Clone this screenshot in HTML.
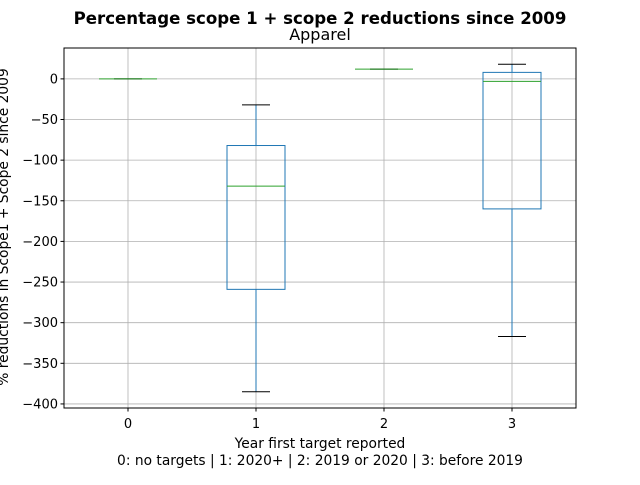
<!DOCTYPE html>
<html><head><meta charset="utf-8"><style>
body{margin:0;background:#fff;}
svg text{font-family:"DejaVu Sans","Liberation Sans",sans-serif;}
</style></head><body>
<svg id="chart" width="640" height="480" viewBox="0 0 640 480" xmlns="http://www.w3.org/2000/svg">
<rect width="640" height="480" fill="#fff"/>
<text x="320" y="24" text-anchor="middle" font-size="16.6" font-weight="bold">Percentage scope 1 + scope 2 reductions since 2009</text>
<text x="320" y="40" text-anchor="middle" font-size="16">Apparel</text>
<g id="grid"></g>
<g id="boxes"></g>
<rect x="64" y="48" width="512" height="360" fill="none" stroke="#000" stroke-width="1"/>
<g id="axes"></g>
<text x="320" y="448" text-anchor="middle" font-size="13.8">Year first target reported</text>
<text x="320" y="465" text-anchor="middle" font-size="13.8">0: no targets | 1: 2020+ | 2: 2019 or 2020 | 3: before 2019</text>
<text transform="translate(8,227) rotate(-90)" text-anchor="middle" font-size="13.8">% reductions in Scope1 + Scope 2 since 2009</text>
</svg>
<script>
const categories=["0","1","2","3"];
const whiskerHigh=[0,-32,12,18];
const q3=[0,-82,12,8];
const medians=[0,-132,12,-3];
const q1=[0,-259,12,-160];
const whiskerLow=[0,-385,12,-317];
const yTicks=[0,-50,-100,-150,-200,-250,-300,-350,-400];
const NS="http://www.w3.org/2000/svg";
const X0=64,X1=576,Y0=48,Y1=408,ymin=-405,ymax=38;
const xs=i=>X0+(i+0.5)*(X1-X0)/categories.length;
const ys=v=>Y0+(ymax-v)/(ymax-ymin)*(Y1-Y0);
function mk(t,a,p){const e=document.createElementNS(NS,t);for(const k in a)e.setAttribute(k,a[k]);p.appendChild(e);return e;}
const grid=document.getElementById('grid'),axes=document.getElementById('axes'),boxes=document.getElementById('boxes');
yTicks.forEach(v=>{const y=ys(v);
const g=mk('line',{x1:X0,x2:X1,y1:y,y2:y,stroke:'#b0b0b0','stroke-width':0.8},grid);

const t=mk('line',{x1:X0-3.5,x2:X0,y1:y,y2:y,stroke:'#000'},axes);

const l=mk('text',{x:X0-6,y:y+4.5,'text-anchor':'end','font-size':13},axes);l.textContent=String(v).replace('-','\u2212');
});
categories.forEach((c,i)=>{const x=xs(i);
const g=mk('line',{x1:x,x2:x,y1:Y0,y2:Y1,stroke:'#b0b0b0','stroke-width':0.8},grid);

const t=mk('line',{x1:x,x2:x,y1:Y1,y2:Y1+3.5,stroke:'#000'},axes);

const l=mk('text',{x:x,y:Y1+20,'text-anchor':'middle','font-size':13},axes);l.textContent=c;

const grp=mk('g',{},boxes);
const hw=29,cw=14,blue='#1f77b4';
mk('line',{x1:x,x2:x,y1:ys(whiskerHigh[i]),y2:ys(q3[i]),stroke:blue},grp);
mk('line',{x1:x,x2:x,y1:ys(q1[i]),y2:ys(whiskerLow[i]),stroke:blue},grp);
mk('line',{x1:x-cw,x2:x+cw,y1:ys(whiskerHigh[i]),y2:ys(whiskerHigh[i]),stroke:'#000'},grp);
mk('line',{x1:x-cw,x2:x+cw,y1:ys(whiskerLow[i]),y2:ys(whiskerLow[i]),stroke:'#000'},grp);
mk('rect',{x:x-hw,y:ys(q3[i]),width:2*hw,height:Math.max(0,ys(q1[i])-ys(q3[i])),fill:'none',stroke:blue},grp);
mk('line',{x1:x-hw,x2:x+hw,y1:ys(medians[i]),y2:ys(medians[i]),stroke:'#2ca02c'},grp);
});
</script>
</body></html>
